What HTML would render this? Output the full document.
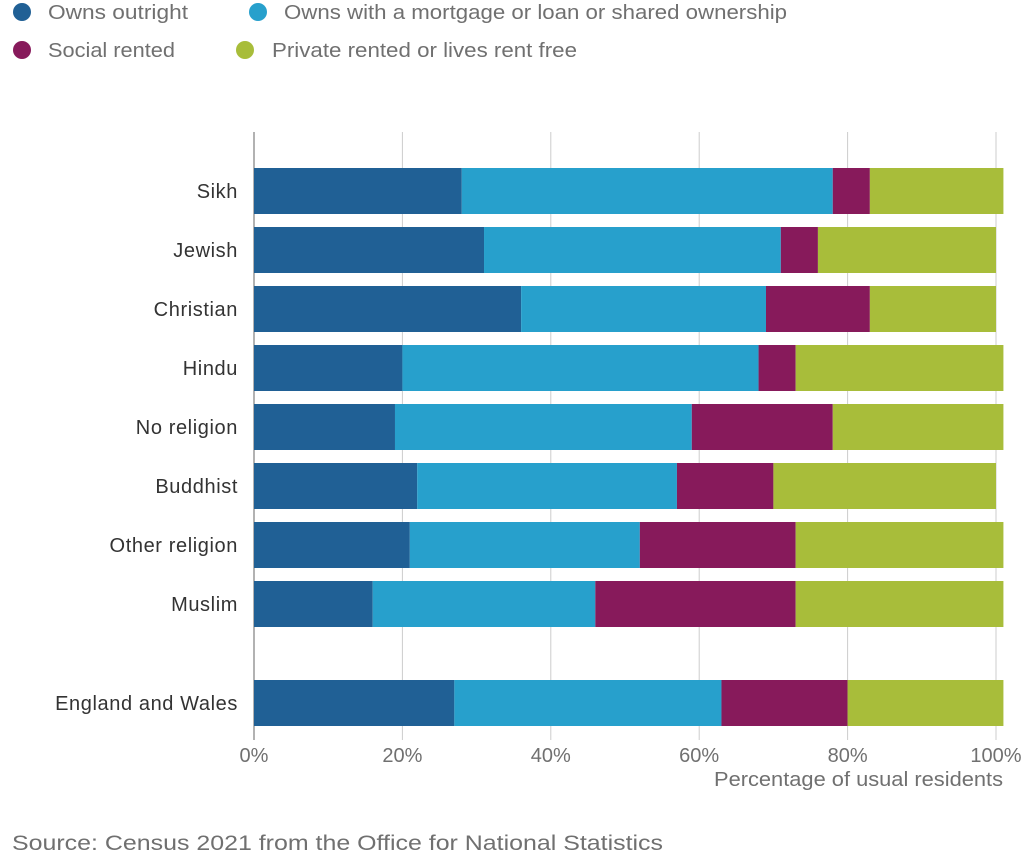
<!DOCTYPE html>
<html><head><meta charset="utf-8"><style>
body{margin:0;background:#fff;font-family:"Liberation Sans",sans-serif;}
svg text{font-family:"Liberation Sans",sans-serif;}
</style></head><body>
<svg id="chart" width="1027" height="857">
<g>
<g><circle cx="22" cy="12" r="9" fill="#206095"/><text x="48" y="19" font-size="20" fill="#707070" textLength="140" lengthAdjust="spacingAndGlyphs">Owns outright</text></g>
<g><circle cx="258" cy="12" r="9" fill="#27a0cc"/><text x="284" y="19" font-size="20" fill="#707070" textLength="503" lengthAdjust="spacingAndGlyphs">Owns with a mortgage or loan or shared ownership</text></g>
<g><circle cx="22" cy="50" r="9" fill="#871a5b"/><text x="48" y="57" font-size="20" fill="#707070" textLength="127" lengthAdjust="spacingAndGlyphs">Social rented</text></g>
<g><circle cx="245" cy="50" r="9" fill="#a8bd3a"/><text x="272" y="57" font-size="20" fill="#707070" textLength="305" lengthAdjust="spacingAndGlyphs">Private rented or lives rent free</text></g>
</g>
<g id="grid"></g>
<g id="bars"></g>
<g id="ylabels"></g>
<g id="xticks"></g>
<text x="714" y="786" font-size="20" fill="#707070" textLength="289" lengthAdjust="spacingAndGlyphs">Percentage of usual residents</text>
<text x="12" y="850" font-size="21" fill="#707070" textLength="651" lengthAdjust="spacingAndGlyphs">Source: Census 2021 from the Office for National Statistics</text>
</svg>
<script>
const categories=["Sikh","Jewish","Christian","Hindu","No religion","Buddhist","Other religion","Muslim","England and Wales"];
const ownsOutright=[28,31,36,20,19,22,21,16,27];
const mortgage=[50,40,33,48,40,35,31,30,36];
const socialRented=[5,5,14,5,19,13,21,27,17];
const privateRented=[18,24,17,28,23,30,28,28,21];
const xTicks=[0,20,40,60,80,100];
const tickLabels=["0%","20%","40%","60%","80%","100%"];
const colors=["#206095","#27a0cc","#871a5b","#a8bd3a"];
const seriesNames=["owns-outright","mortgage","social-rented","private-rented"];
const NS="http://www.w3.org/2000/svg";
const S=7.42;
const x=v=>254+v*S;
const y=i=>168+i*59+(i>=8?40:0);
const bh=46;
const grid=document.getElementById('grid');
xTicks.forEach((t,k)=>{
 const l=document.createElementNS(NS,'line');
 l.setAttribute('x1',x(t));l.setAttribute('x2',x(t));l.setAttribute('y1',132);l.setAttribute('y2',740);
 l.setAttribute('stroke',k==0?'#999':'#ccc');l.setAttribute('stroke-width',k==0?1.5:1);
 
 
 grid.appendChild(l);
 const tx=document.createElementNS(NS,'text');
 tx.setAttribute('x',x(t));tx.setAttribute('y',762);tx.setAttribute('font-size','20');tx.setAttribute('fill','#707070');tx.setAttribute('text-anchor','middle');
 tx.textContent=tickLabels[k];
 
 
 document.getElementById('xticks').appendChild(tx);
});
const series=[ownsOutright,mortgage,socialRented,privateRented];
categories.forEach((c,i)=>{
 let acc=0;
 series.forEach((s,j)=>{
  const r=document.createElementNS(NS,'rect');
  r.setAttribute('x',x(acc));r.setAttribute('width',s[i]*S);
  r.setAttribute('y',y(i));r.setAttribute('height',bh);r.setAttribute('fill',colors[j]);
  
  
  document.getElementById('bars').appendChild(r);
  acc+=s[i];
 });
 const t=document.createElementNS(NS,'text');
 t.setAttribute('x',238);t.setAttribute('y',y(i)+bh/2+7);t.setAttribute('font-size','20');t.setAttribute('fill','#333');t.setAttribute('text-anchor','end');
 t.setAttribute('letter-spacing','0.6');
 t.textContent=c;
 
 
 document.getElementById('ylabels').appendChild(t);
});
</script>
</body></html>
